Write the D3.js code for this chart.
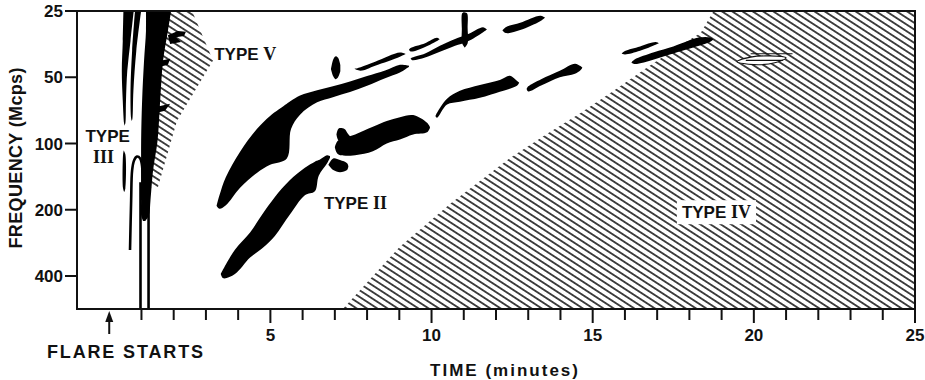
<!DOCTYPE html>
<html>
<head>
<meta charset="utf-8">
<script src="https://cdn.jsdelivr.net/npm/d3@7"></script>
<style>
  body { margin: 0; background: #fff; }
  text { font-family: "Liberation Sans", Arial, sans-serif; fill: #111; font-weight: bold; }
</style>
</head>
<body>
<div id="container"></div>
<script>
/* CONSTANTS AND GLOBALS */
const width = 925,
  height = 380,
  margin = { top: 11, right: 10, bottom: 71, left: 77 };

// DATA  (time = minutes after flare start, frequency = Mcps)
const timeDomain = [-1, 25];
const freqDomain = [25, 565];
const timeTicks = d3.range(1, 26);
const timeLabels = [5, 10, 15, 20, 25];
const freqTicks = [25, 50, 100, 200, 400];
const flareStart = 0;

// hatched continuum regions, outline as [time, freq]
const typeIVRegion = [[7.25, 565], [9.0, 296], [10.6, 187], [12.45, 116], [13.6, 90], [14.6, 73],
  [15.65, 57.6], [16.7, 45], [17.7, 36], [18.35, 31.5], [18.75, 25], [25, 25], [25, 565]];
const typeVRegion = [[1.67, 25], [2.57, 25], [3.22, 42], [2.1, 79], [1.51, 158], [1.27, 158], [1.27, 79], [1.48, 42]];

// type III streaks, slices as [freq, time start, time end]
const typeIIIStreaks = [
  [[25, 0.44, 0.76], [34.2, 0.42, 0.66], [46.7, 0.39, 0.56], [63.9, 0.42, 0.52], [81, 0.46, 0.5], [83, 0.475, 0.475]],
  [[25, 0.80, 0.99], [37.9, 0.71, 0.84], [57.6, 0.66, 0.75], [77, 0.68, 0.72], [79, 0.7, 0.7]],
  [[25, 1.14, 1.92], [30.8, 1.14, 1.82], [42.1, 1.08, 1.67], [63.9, 1.02, 1.58], [96.9, 0.99, 1.5],
    [132.5, 0.99, 1.36], [181, 0.99, 1.28], [212, 0.99, 1.23], [225, 1.05, 1.12]],
  [[107.6, 0.45, 0.45], [112, 0.43, 0.5], [160, 0.43, 0.5], [166, 0.465, 0.465]],
  [[25.3, 11.0, 11.0], [25.6, 10.95, 11.1], [30, 10.94, 11.12], [35, 10.95, 11.12], [36.6, 11.03, 11.03]]
];
// thin type III traces, as [time, freq]
const typeIIILines = [
  [[0.97, 150], [0.97, 565]],
  [[1.22, 150], [1.22, 565]],
  [[0.645, 305], [0.68, 181], [0.71, 132.5], [0.77, 119.4], [0.86, 114.7], [0.96, 117], [1.02, 127], [1.02, 181]]
];
const typeIIIFlags = [
  [[1.82, 32.2], [2.13, 30.8], [2.38, 31.1], [2.32, 32.5], [2.07, 32.9], [2.23, 34.6], [1.89, 35.3]],
  [[1.58, 42.1], [1.89, 41.2], [1.82, 43.9], [1.58, 44.8]],
  [[1.48, 68], [1.89, 66], [1.73, 70.9], [1.48, 72.5]]
];

// type II bursts, slices as [time, freq low, freq high]
const typeIIBursts = [
  [[3.33, 192, 192], [3.42, 172, 198], [3.62, 142, 191], [4.06, 109, 159], [4.58, 86, 136], [4.99, 75, 125],
    [5.51, 66, 117], [5.64, 64, 86], [5.92, 60.5, 74], [6.45, 57.3, 65], [6.94, 55, 61.6], [7.47, 52.3, 58.4],
    [8.0, 49.4, 54.7], [8.56, 46.6, 50.5], [9.02, 43.9, 47.6], [9.3, 44.3, 44.8]],
  [[7.6, 45.8, 45.8], [7.8, 45, 46.7], [8.25, 42.5, 44.3], [9.02, 38.6, 40.3], [9.2, 39.2, 39.2]],
  [[9.3, 37.4, 37.4], [9.35, 36.8, 38.2], [9.8, 35, 36.4], [10.17, 33.1, 34.2], [10.25, 33.6, 33.6]],
  [[9.35, 41.2, 41.2], [9.4, 40.7, 41.8], [9.8, 39, 40.7], [10.26, 36, 38.3], [10.73, 33.5, 36], [11.1, 32, 34.5],
    [11.6, 29.6, 31.2], [11.72, 30.3, 30.3]],
  [[6.88, 46, 46], [6.95, 41.5, 49.5], [7.02, 40.2, 51], [7.1, 40.8, 50], [7.17, 44, 47]],
  [[12.2, 30.6, 30.6], [12.3, 29.6, 31.5], [12.75, 28.3, 30.5], [13.37, 26.3, 27.8], [13.52, 26.8, 26.8]],
  [[3.46, 392, 392], [3.54, 372, 410], [3.9, 304, 392], [4.37, 254, 330], [4.74, 211, 300], [5.14, 175, 263],
    [5.6, 147, 211], [6.07, 129, 172], [6.38, 121, 165], [6.5, 119, 140], [6.76, 113, 123], [6.85, 114, 116]],
  [[6.8, 125, 125], [6.95, 117, 132], [7.16, 119, 135], [7.38, 123, 132], [7.42, 127, 127]],
  [[7.05, 91, 91], [7.12, 85.5, 97], [7.3, 86, 97], [7.4, 90, 95], [7.55, 95.5, 96.5]],
  [[7.0, 104, 104], [7.1, 97, 112], [7.63, 91, 113], [8.18, 84, 108.5], [8.61, 79, 100], [9.02, 76, 96],
    [9.43, 74.3, 91], [9.86, 80.5, 89], [9.95, 84, 85]],
  [[10.12, 75, 75], [10.17, 72.5, 76.4], [10.48, 62.6, 66.5], [10.88, 57.6, 64.6], [11.5, 54.2, 62],
    [12.12, 51.4, 58.2], [12.43, 49.2, 56.4], [12.65, 51.9, 54.7], [12.72, 53, 53]],
  [[12.95, 56.5, 56.5], [13.0, 55, 58], [13.4, 51, 54.5], [13.98, 46.7, 50], [14.45, 43.4, 48.2],
    [14.62, 44.5, 46.5], [14.68, 45.3, 45.3]],
  [[15.9, 39, 39], [16.0, 38, 39.4], [16.47, 36.2, 37.9], [16.95, 34.6, 35.6], [17.05, 35, 35]],
  [[16.2, 42.8, 42.8], [16.3, 41.5, 43.5], [16.9, 38.5, 41.5], [17.5, 36.2, 39], [18.3, 33, 36],
    [18.65, 33, 34.5], [18.75, 33.6, 33.6]]
];

// faint drifting burst inside type IV, [time, freq]
const typeIVFish = [[19.48, 42.5], [19.9, 40.5], [20.5, 40], [21.0, 40.8], [20.65, 43], [20.0, 43.8]];
const typeIVFishLines = [
  [[19.9, 39.1], [21.2, 39.1]],
  [[19.75, 41.9], [20.9, 41.9]]
];

const typeLabels = [
  { name: "TYPE", numeral: "", t: -0.05, f: 92 },
  { name: "", numeral: "III", t: -0.18, f: 115 },
  { name: "TYPE ", numeral: "V", t: 4.22, f: 39.2 },
  { name: "TYPE ", numeral: "II", t: 7.64, f: 187 },
  { name: "TYPE ", numeral: "IV", t: 18.84, f: 205, boxed: true }
];

/* SCALES */
const x = d3.scaleLinear().domain(timeDomain).range([margin.left, width - margin.right]);
const y = d3.scaleLog().domain(freqDomain).range([margin.top, height - margin.bottom]);

/* SVG */
const svg = d3.select("#container")
  .append("svg")
  .attr("width", width)
  .attr("height", height);

const defs = svg.append("defs");
defs.append("clipPath").attr("id", "plot")
  .append("rect")
  .attr("x", x.range()[0]).attr("y", y.range()[0])
  .attr("width", x.range()[1] - x.range()[0])
  .attr("height", y.range()[1] - y.range()[0]);

defs.append("pattern")
  .attr("id", "hatch")
  .attr("patternUnits", "userSpaceOnUse")
  .attr("width", 10).attr("height", 5.6)
  .attr("patternTransform", "rotate(33)")
  .append("line")
  .attr("x1", 0).attr("x2", 10).attr("y1", 2.8).attr("y2", 2.8)
  .attr("stroke", "#1a1a1a").attr("stroke-width", 1.6);

const plot = svg.append("g").attr("clip-path", "url(#plot)");

const outline = d3.line().x(d => x(d[0])).y(d => y(d[1]));
const closedShape = d3.line().x(d => x(d[0])).y(d => y(d[1])).curve(d3.curveCatmullRomClosed.alpha(0.5));
const blobArea = d3.area()
  .x(d => x(d[0])).y0(d => y(d[1])).y1(d => y(d[2]))
  .curve(d3.curveCatmullRom.alpha(0.5));
const streakArea = d3.area()
  .y(d => y(d[0])).x0(d => x(d[1])).x1(d => x(d[2]))
  .curve(d3.curveCatmullRom.alpha(0.5));

// HATCHED REGIONS
plot.selectAll("path.hatched")
  .data([typeIVRegion, typeVRegion])
  .join("path")
  .attr("class", "hatched")
  .attr("d", d => outline(d) + "Z")
  .attr("fill", "url(#hatch)");

// FAINT BURST IN TYPE IV
plot.append("path")
  .attr("d", closedShape(typeIVFish))
  .attr("fill", "#fff").attr("stroke", "#111").attr("stroke-width", 1.1);
plot.selectAll("path.fishline")
  .data(typeIVFishLines)
  .join("path")
  .attr("class", "fishline")
  .attr("d", outline)
  .attr("fill", "none").attr("stroke", "#111").attr("stroke-width", 1.1);

// TYPE III
plot.selectAll("path.streak")
  .data(typeIIIStreaks)
  .join("path")
  .attr("class", "streak")
  .attr("d", streakArea)
  .attr("fill", "#000");
plot.selectAll("path.trace")
  .data(typeIIILines)
  .join("path")
  .attr("class", "trace")
  .attr("d", d3.line().x(d => x(d[0])).y(d => y(d[1])).curve(d3.curveCatmullRom))
  .attr("fill", "none").attr("stroke", "#000").attr("stroke-width", 2.6);
plot.selectAll("path.flag")
  .data(typeIIIFlags)
  .join("path")
  .attr("class", "flag")
  .attr("d", d => outline(d) + "Z")
  .attr("fill", "#000");

// TYPE II
plot.selectAll("path.burst")
  .data(typeIIBursts)
  .join("path")
  .attr("class", "burst")
  .attr("d", blobArea)
  .attr("fill", "#000");

// FRAME
svg.append("rect")
  .attr("x", x.range()[0]).attr("y", y.range()[0])
  .attr("width", x.range()[1] - x.range()[0])
  .attr("height", y.range()[1] - y.range()[0])
  .attr("fill", "none").attr("stroke", "#111").attr("stroke-width", 2);

// X AXIS
const xAxis = svg.append("g");
xAxis.selectAll("line")
  .data(timeTicks)
  .join("line")
  .attr("x1", d => x(d)).attr("x2", d => x(d))
  .attr("y1", y.range()[1])
  .attr("y2", d => y.range()[1] + (timeLabels.includes(d) ? 14 : 11))
  .attr("stroke", "#111").attr("stroke-width", 2);
xAxis.selectAll("text")
  .data(timeLabels)
  .join("text")
  .attr("x", d => x(d)).attr("y", 341)
  .attr("text-anchor", "middle")
  .attr("font-size", 17)
  .text(d => d);

// Y AXIS
const yAxis = svg.append("g");
yAxis.selectAll("line")
  .data(freqTicks)
  .join("line")
  .attr("x1", x.range()[0] - 12).attr("x2", x.range()[0])
  .attr("y1", d => y(d)).attr("y2", d => y(d))
  .attr("stroke", "#111").attr("stroke-width", 2);
yAxis.selectAll("text")
  .data(freqTicks)
  .join("text")
  .attr("x", x.range()[0] - 14).attr("y", d => y(d))
  .attr("dy", "0.36em")
  .attr("text-anchor", "end")
  .attr("font-size", 17)
  .text(d => d);

svg.append("text")
  .attr("transform", "translate(22,158) rotate(-90)")
  .attr("text-anchor", "middle")
  .attr("font-size", 18)
  .attr("textLength", 181).attr("lengthAdjust", "spacing")
  .text("FREQUENCY (Mcps)");

svg.append("text")
  .attr("x", 504).attr("y", 376)
  .attr("text-anchor", "middle")
  .attr("font-size", 17)
  .attr("textLength", 148).attr("lengthAdjust", "spacing")
  .text("TIME (minutes)");

// FLARE START MARKER
const fx = x(flareStart), fy = y.range()[1];
svg.append("line")
  .attr("x1", fx).attr("x2", fx).attr("y1", fy + 8).attr("y2", fy + 25)
  .attr("stroke", "#111").attr("stroke-width", 2);
svg.append("path")
  .attr("d", `M${fx - 4},${fy + 13}L${fx},${fy + 2}L${fx + 4},${fy + 13}Z`)
  .attr("fill", "#111");
svg.append("text")
  .attr("x", 47).attr("y", 358)
  .attr("font-size", 18)
  .attr("textLength", 156).attr("lengthAdjust", "spacing")
  .text("FLARE STARTS");

// TYPE LABELS
const labelG = svg.selectAll("g.typelabel")
  .data(typeLabels)
  .join("g")
  .attr("class", "typelabel");
const labelText = labelG.append("text")
  .attr("x", d => x(d.t)).attr("y", d => y(d.f))
  .attr("dy", "0.36em")
  .attr("text-anchor", "middle")
  .attr("font-size", 17);
labelText.append("tspan").text(d => d.name);
labelText.append("tspan")
  .attr("font-family", "'Liberation Serif', serif")
  .attr("font-weight", "bold")
  .attr("font-size", 18)
  .text(d => d.numeral);

labelG.filter(d => d.boxed).each(function () {
  const t = d3.select(this).select("text");
  const b = t.node().getBBox();
  d3.select(this).insert("rect", "text")
    .attr("x", b.x - 5).attr("y", b.y - 2)
    .attr("width", b.width + 10).attr("height", b.height + 4)
    .attr("fill", "#fff");
});
</script>
</body>
</html>
